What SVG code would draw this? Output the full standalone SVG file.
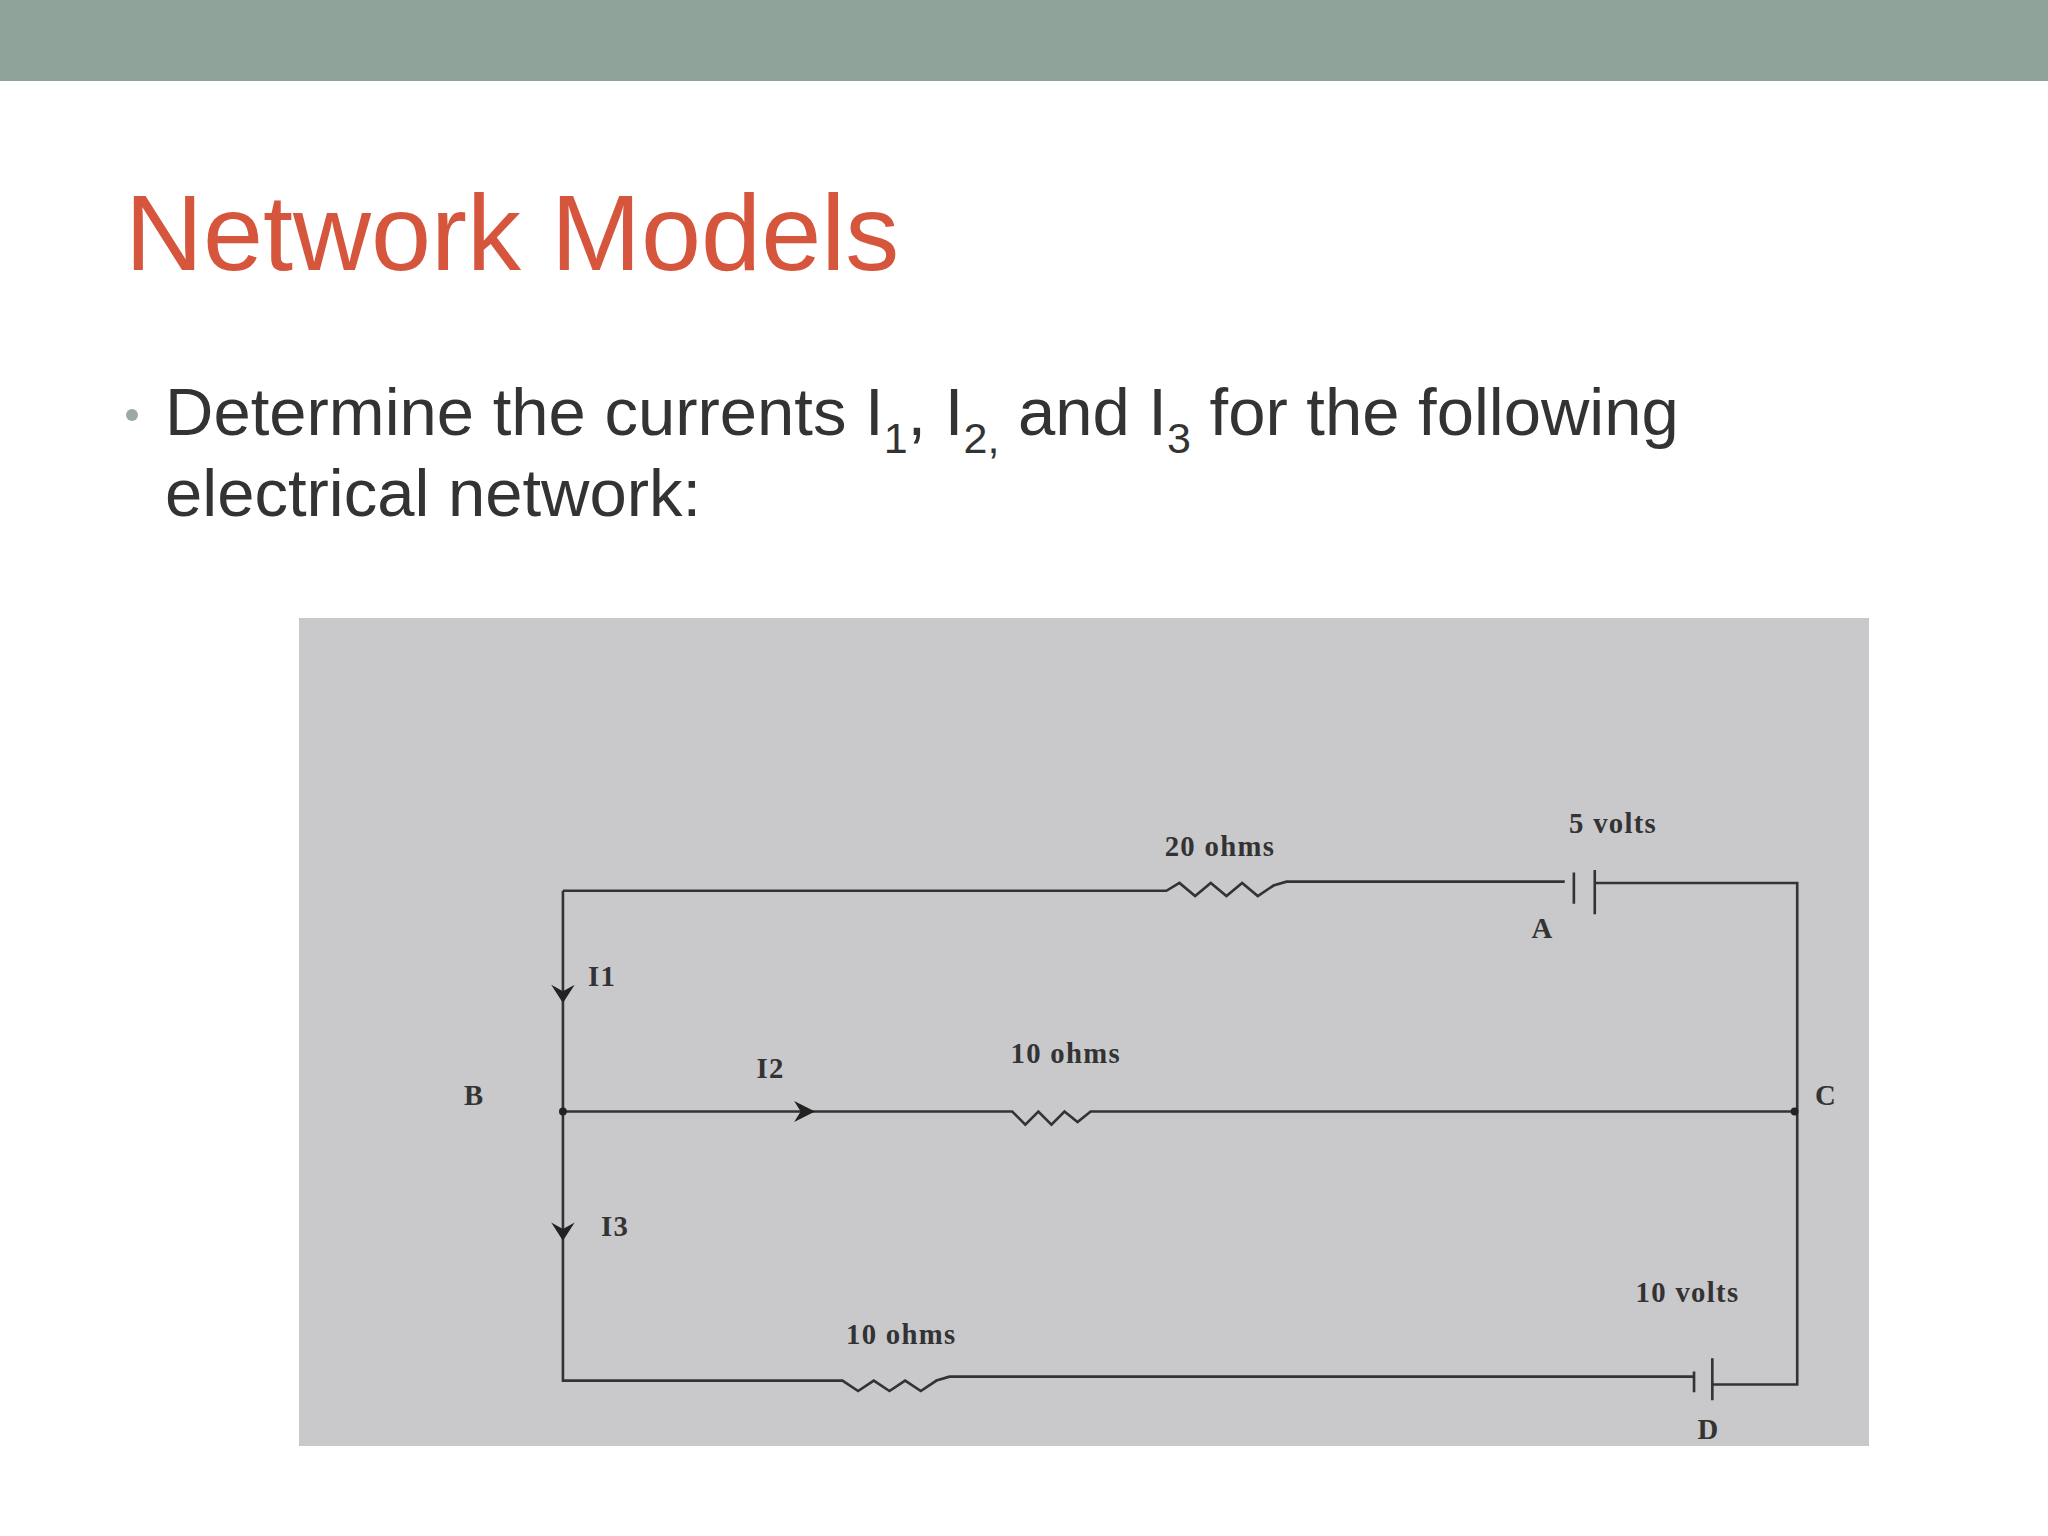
<svg xmlns="http://www.w3.org/2000/svg" width="2048" height="1536" viewBox="0 0 2048 1536">
<style>
.w{fill:none;stroke:#333;stroke-width:2}
.l{font-family:"Liberation Serif",serif;font-size:22px;fill:#333;text-anchor:middle;letter-spacing:1px;font-weight:bold}
.a{fill:#222}
</style>
<rect width="2048" height="1536" fill="#fff"/>
<rect width="2048" height="81" fill="#8fa39a"/>
<text x="125" y="270" font-family="Liberation Sans,Arial,sans-serif" font-size="108" fill="#d5553d">Network Models</text>
<circle cx="132" cy="415" r="6" fill="#9aa9a3"/>
<g font-family="Liberation Sans,Arial,sans-serif" font-size="67" fill="#333">
<text x="165" y="435">Determine the currents I<tspan font-size="43" dy="18">1</tspan><tspan dy="-18">, I</tspan><tspan font-size="43" dy="18">2,</tspan><tspan dy="-18"> and I</tspan><tspan font-size="43" dy="18">3</tspan><tspan dy="-18"> for the following</tspan></text>
<text x="165" y="516">electrical network:</text>
</g>
<rect x="299" y="618" width="1570" height="828" fill="#c9c8cb"/>
<g transform="scale(1.30612)">
<g id="connectors">
<path class="w" d="M431,682 H893 l10,-6 l12,10 l12,-10 l12,10 l12,-10 l12,10 l12,-8 l10,-3 H1198 M1221,676 H1376 V1060 H1311"/>
<path class="w" d="M1205,668 V692 M1221,666 V700" />
<path class="w" d="M431,682 V1057 H645 l12,8 l12,-8 l12,8 l12,-8 l12,8 l12,-8 l10,-3 H1297"/>
<path class="w" d="M1297,1050 V1066 M1311,1040 V1072"/>
<path class="w" d="M431,851 H775 l10,10 l10,-10 l10,10 l10,-10 l10,8 l10,-8 H1376"/>
<path class="a" d="M422,754 L431,768 L440,754 L431,759Z"/>
<path class="a" d="M422,936 L431,950 L440,936 L431,941Z"/>
<path class="a" d="M608,843 L624,851 L608,859 L613,851Z"/>
<circle class="a" cx="431" cy="851" r="3"/>
<circle class="a" cx="1374" cy="851" r="3"/>
</g>
<g id="labels">
<text class="l" x="934" y="655">20 ohms</text>
<text class="l" x="1235" y="638">5 volts</text>
<text class="l" x="1181" y="718">A</text>
<text class="l" x="461" y="755">I1</text>
<text class="l" x="816" y="814">10 ohms</text>
<text class="l" x="590" y="825">I2</text>
<text class="l" x="363" y="846">B</text>
<text class="l" x="1398" y="846">C</text>
<text class="l" x="471" y="946">I3</text>
<text class="l" x="690" y="1029">10 ohms</text>
<text class="l" x="1292" y="997">10 volts</text>
<text class="l" x="1308" y="1102">D</text>
</g>
</g>
</svg>
